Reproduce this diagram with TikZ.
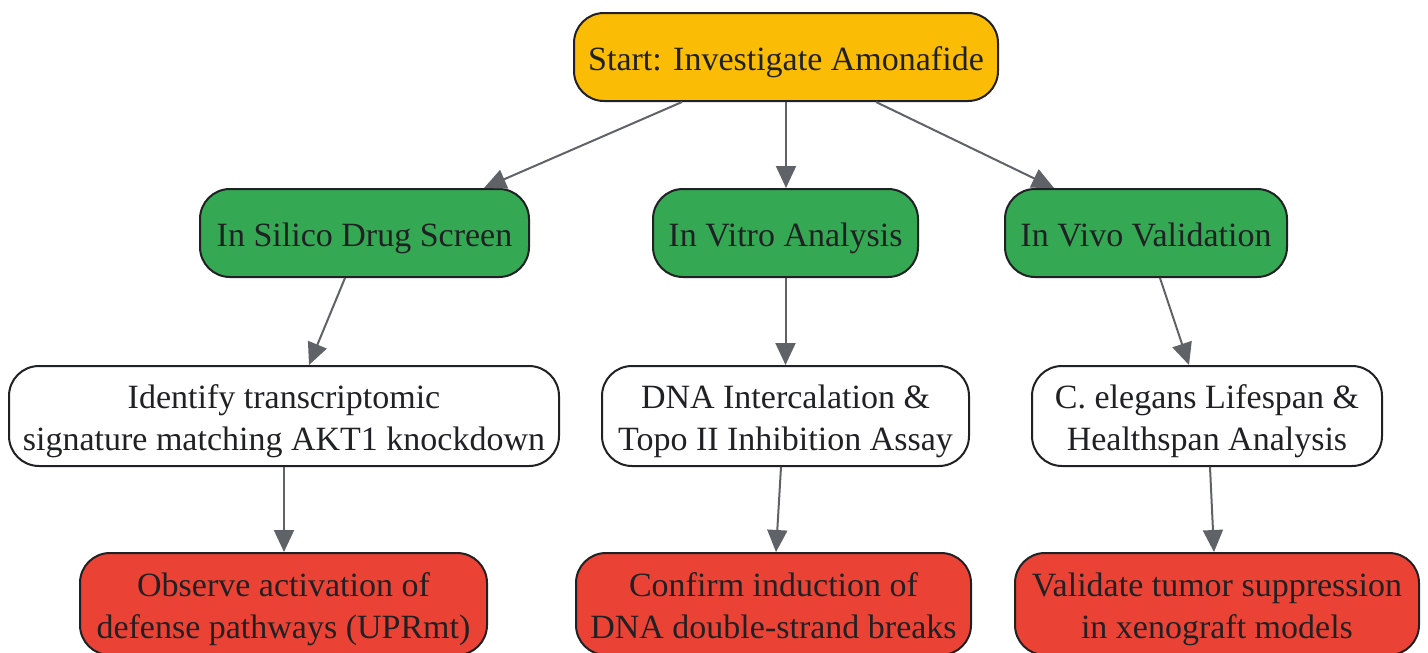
\documentclass[tikz,border=0pt]{standalone}
\usepackage{fontspec}
\setmainfont{Liberation Serif}
\usepackage{tikz}
\usetikzlibrary{arrows.meta}
\usetikzlibrary{calc}
\definecolor{startyellow}{HTML}{FBBC05}
\definecolor{stagegreen}{HTML}{34A853}
\definecolor{resultred}{HTML}{EA4335}
\definecolor{edgegray}{HTML}{5F6368}
\definecolor{inkdark}{HTML}{202124}

\begin{document}
\begin{tikzpicture}[
  x=1pt, y=-1pt,
  > = {Triangle[length=22pt,width=20pt]},
  box/.style = {draw=inkdark, line width=2pt, rounded corners=30pt, align=flush center,
    text=inkdark, font=\fontsize{34}{41.5}\selectfont, inner sep=0pt, minimum height=88pt,
    execute at begin node=\rule{0pt}{36pt}, execute at end node=\rule[-9pt]{0pt}{9pt}},
  startbox/.style = {box, fill=startyellow},
  stagebox/.style = {box, fill=stagegreen},
  taskbox/.style = {box, fill=white, minimum height=100pt},
  resultbox/.style = {box, fill=resultred, minimum height=102pt},
  link/.style = {draw=edgegray, line width=2pt, ->}
  ]
	\clip (0,0) rectangle (1428,653);
	\fill[white] (0,0) rectangle (1428,653);

	\node[startbox, minimum width=424pt] (start) at (786,57) {Start: Investigate Amonafide};

	\node[stagebox, minimum width=329pt] (silico) at (364.5,233) {In Silico Drug Screen};
	\node[stagebox, minimum width=265pt] (vitro) at (785.5,233) {In Vitro Analysis};
	\node[stagebox, minimum width=282pt] (vivo) at (1146,233) {In Vivo Validation};

	\node[taskbox, text width=550pt] (signature) at (284,416) {Identify transcriptomic\\signature matching AKT1 knockdown};
	\node[taskbox, text width=367pt] (intercal) at (785.5,416) {DNA Intercalation \&\\Topo II Inhibition Assay};
	\node[taskbox, text width=350pt] (lifespan) at (1207,416) {C. elegans Lifespan \&\\Healthspan Analysis};

	\node[resultbox, text width=407pt] (defense) at (283.5,604) {Observe activation of\\defense pathways (UPRmt)};
	\node[resultbox, text width=395pt] (breaks) at (773.5,604) {Confirm induction of\\DNA double-strand breaks};
	\node[resultbox, text width=404pt] (tumor) at (1217,604) {Validate tumor suppression\\in xenograft models};

	\draw[link] ($(start.south)+(-104,0)$) -- ($(silico.north)+(119.5,0)$);
	\draw[link] (start.south) -- (start.south |- vitro.north);
	\draw[link] ($(start.south)+(90,0)$) -- ($(vivo.north)+(-92,0)$);

	\draw[link] ($(silico.south)+(-19.5,0)$) -- ($(signature.north)+(25,0)$);
	\draw[link] (vitro.south) -- (vitro.south |- intercal.north);
	\draw[link] ($(vivo.south)+(14,0)$) -- ($(lifespan.north)+(-18,0)$);

	\draw[link] (signature.south) -- (signature.south |- defense.north);
	\draw[link] ($(intercal.south)+(-4.5,0)$) -- ($(breaks.north)+(2.5,0)$);
	\draw[link] ($(lifespan.south)+(3,0)$) -- ($(tumor.north)+(-3,0)$);

\end{tikzpicture}
\end{document}
